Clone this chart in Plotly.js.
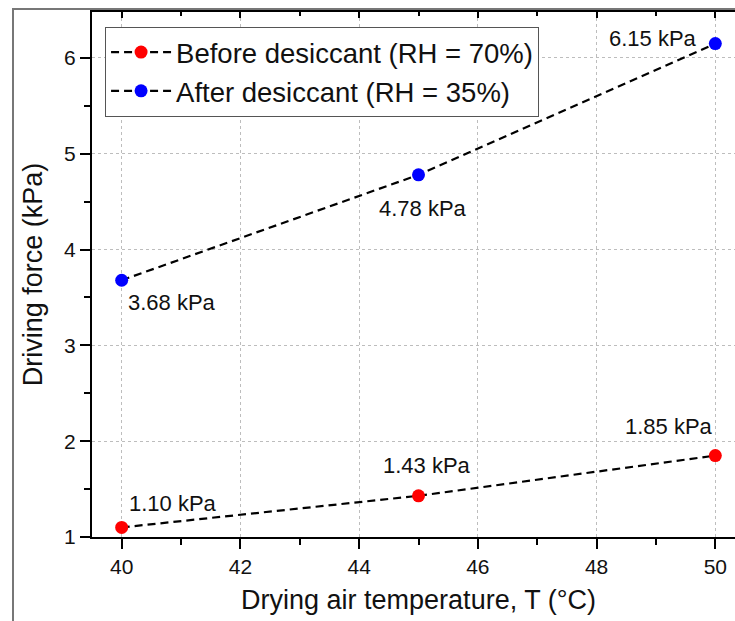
<!DOCTYPE html>
<html>
<head>
<meta charset="utf-8">
<script src="https://cdn.plot.ly/plotly-3.0.1.min.js"></script>
<style>
  html, body { margin: 0; padding: 0; overflow: hidden; background: #fff; }
  #frame { position: absolute; left: 12px; top: 8px; width: 800px; height: 700px;
           border-left: 2px solid #777; border-top: 2px solid #777; }
  #chart { position: absolute; left: 0; top: 0; }
</style>
</head>
<body>
<div id="frame"></div>
<div id="chart"></div>
<script>
// Drying air temperature (°C)
const temperature = [40, 45, 50];
// Vapour-pressure driving force (kPa)
const beforeDesiccant = [1.10, 1.43, 1.85];
const afterDesiccant = [3.68, 4.78, 6.15];
const seriesNames = ['Before desiccant (RH = 70%)', 'After desiccant (RH = 35%)'];

// label offsets (px) for each point's value tag
const beforeShift = [[5, 24], [-38, 30], [-92, 29]];
const afterShift = [[4, -22], [-42, -34], [-108, 5]];

const FONT = 'Liberation Sans, Arial, sans-serif';
const dashed = { color: '#000', width: 2.2, dash: '8px,5px' };

const traces = [
  {
    x: temperature, y: beforeDesiccant, name: seriesNames[0],
    mode: 'lines+markers', type: 'scatter',
    line: dashed, marker: { color: '#ff0000', size: 13 }
  },
  {
    x: temperature, y: afterDesiccant, name: seriesNames[1],
    mode: 'lines+markers', type: 'scatter',
    line: dashed, marker: { color: '#0000ff', size: 13 }
  },
  { x: [], y: [], xaxis: 'x2', showlegend: false, hoverinfo: 'skip' }
];

function tags(values, shifts) {
  return values.map((v, i) => ({
    x: temperature[i], y: v, xref: 'x', yref: 'y',
    text: v.toFixed(2) + ' kPa', showarrow: false,
    xanchor: 'left', yanchor: 'middle',
    xshift: shifts[i][0], yshift: shifts[i][1],
    font: { family: FONT, size: 22, color: '#111' }
  }));
}

const axisCommon = {
  showline: true, linecolor: '#000', linewidth: 2,
  ticks: 'outside', ticklen: 10, tickwidth: 2, tickcolor: '#000',
  showgrid: true, gridcolor: '#bdbdbd', gridwidth: 1, griddash: '3px,3px',
  zeroline: false,
  tickfont: { family: FONT, size: 21, color: '#111' }
};

const layout = {
  width: 760, height: 621,
  margin: { l: 92, r: 15, t: 12, b: 84 },
  paper_bgcolor: 'rgba(0,0,0,0)', plot_bgcolor: 'rgba(0,0,0,0)',
  font: { family: FONT, color: '#111' },
  xaxis: Object.assign({}, axisCommon, {
    range: [39.5, 50.5], dtick: 2, tick0: 40,
    minor: { dtick: 1, tick0: 40, ticks: 'outside', ticklen: 6, tickwidth: 2, tickcolor: '#000', showgrid: false },
    title: { text: 'Drying air temperature, T (°C)', font: { family: FONT, size: 27, color: '#111' }, standoff: 13 }
  }),
  xaxis2: {
    overlaying: 'x', matches: 'x', side: 'top', anchor: 'y',
    showline: true, linecolor: '#000', linewidth: 2,
    ticks: 'inside', ticklen: 6, tickwidth: 2, tickcolor: '#000',
    dtick: 2, tick0: 40, showticklabels: false, showgrid: false, zeroline: false,
    minor: { dtick: 1, tick0: 40, ticks: 'inside', ticklen: 4, tickwidth: 2, tickcolor: '#000', showgrid: false }
  },
  yaxis: Object.assign({}, axisCommon, {
    range: [1, 6.48], dtick: 1, tick0: 1,
    minor: { dtick: 0.5, tick0: 1, ticks: 'outside', ticklen: 6, tickwidth: 2, tickcolor: '#000', showgrid: false },
    title: { text: 'Driving force (kPa)', font: { family: FONT, size: 27, color: '#111' }, standoff: 14 }
  }),
  legend: {
    x: 0.02, y: 0.972, xanchor: 'left', yanchor: 'top',
    bgcolor: '#fff', bordercolor: '#555', borderwidth: 1,
    itemwidth: 60, font: { family: FONT, size: 27.5, color: '#111' }
  },
  annotations: tags(beforeDesiccant, beforeShift).concat(tags(afterDesiccant, afterShift)),
  showlegend: true
};

Plotly.newPlot('chart', traces, layout, { displayModeBar: false, staticPlot: true });
</script>
</body>
</html>
